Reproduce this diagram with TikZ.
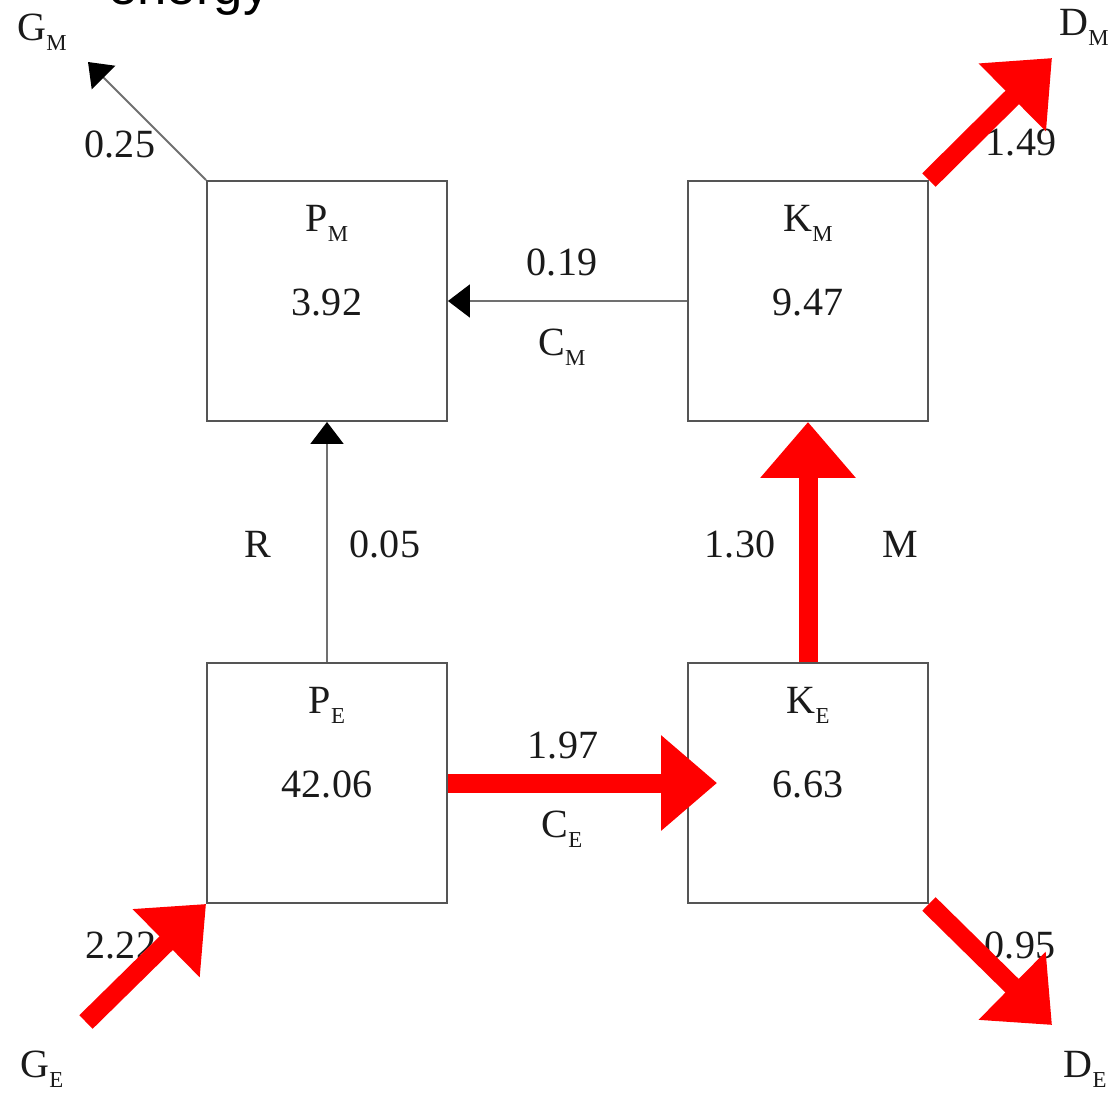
\documentclass[tikz,border=0pt]{standalone}
\usepackage{fontspec}
\setmainfont{Liberation Serif}
\newfontfamily\headfont{Liberation Sans}
\usetikzlibrary{arrows.meta,calc}
\definecolor{ink}{HTML}{1A1A1A}
\definecolor{frame}{HTML}{555555}
\definecolor{wire}{HTML}{707070}
\definecolor{hot}{HTML}{FF0000}
\newcommand{\sym}[2]{#1\raisebox{-0.26em}{\fontsize{13}{13}\selectfont #2}}
\tikzset{
  stock/.style={draw=frame, line width=1.1pt, minimum width=4.8cm, minimum height=4.8cm, inner sep=0pt},
  lab/.style={font=\fontsize{22.8}{24}\selectfont, text=ink, anchor=base, inner sep=0pt},
  weakflow/.style={draw=wire, line width=1.1pt, -{Triangle[length=0.44cm,width=0.66cm,color=black]}},
  mainflow/.style={draw=hot, line width=0.38cm, -{Triangle[length=1.12cm,width=1.84cm]}},
}

\begin{document}
\begin{tikzpicture}[x=0.02cm, y=-0.02cm]
  \useasboundingbox (0,0) rectangle (1115,1092);
  \clip (0,0) rectangle (1115,1092);
  % heading, cut off at the top
  \node[font=\headfont\fontsize{30}{30}\selectfont, anchor=base west, inner sep=0pt] (head) at (108,5) {energy};

  % stocks
  \foreach \n/\s/\t/\v/\x/\y in {pm/P/M/3.92/327/301, km/K/M/9.47/808/301,
                                 pe/P/E/42.06/327/783, ke/K/E/6.63/808/783} {
    \node[stock] (\n) at (\x,\y) {};
    \node[lab] (\n-name) at ($(\n.north)+(0,51)$) {\sym{\s}{\t}};
    \node[lab] (\n-val) at ($(\n.center)+(0,14)$) {\v};
  }

  % flow labels
  \node[lab] (cm-val) at (562,275) {0.19};
  \node[lab] (cm-name) at (562,355) {\sym{C}{M}};
  \node[lab] (ce-val) at (563,758) {1.97};
  \node[lab] (ce-name) at (562,837) {\sym{C}{E}};
  \node[lab] (r-name) at (258,557) {R};
  \node[lab] (r-val) at (385,557) {0.05};
  \node[lab] (m-val) at (740,557) {1.30};
  \node[lab] (m-name) at (900,557) {M};
  \node[lab] (gm-val) at (120,157) {0.25};
  \node[lab] (dm-val) at (1021,155) {1.49};
  \node[lab] (ge-val) at (121,958) {2.22};
  \node[lab] (de-val) at (1020,958) {0.95};
  \node[lab] (gm) at (42,40) {\sym{G}{M}};
  \node[lab] (dm) at (1084,35) {\sym{D}{M}};
  \node[lab] (ge) at (42,1077) {\sym{G}{E}};
  \node[lab] (de) at (1085,1077) {\sym{D}{E}};

  % flows between stocks
  \draw[weakflow] (km.west) -- (pm.east);
  \draw[weakflow] (pe.north) -- (pm.south);
  \draw[mainflow] (pe.east) -- ($(ke.west)+(30,0)$);
  \draw[mainflow] (ke.north) -- (km.south);

  % flows across the border
  \coordinate (gm-end) at (88,62);
  \coordinate (dm-end) at (1052,58);
  \coordinate (ge-start) at (86,1022);
  \coordinate (de-end) at (1052,1025);
  \draw[weakflow] (pm.north west) -- (gm-end);
  \draw[mainflow] (km.north east) -- (dm-end);
  \draw[mainflow] (ge-start) -- (pe.south west);
  \draw[mainflow] (ke.south east) -- (de-end);
\end{tikzpicture}
\end{document}
